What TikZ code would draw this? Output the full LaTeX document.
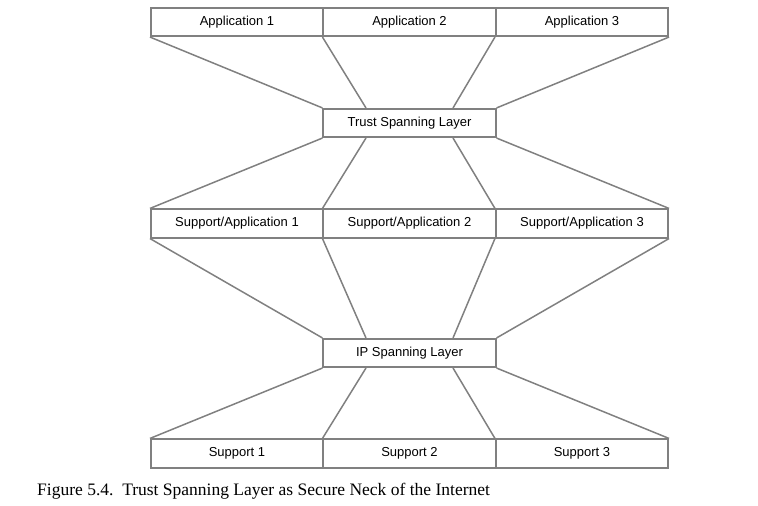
\documentclass[tikz,border=0pt]{standalone}
\usepackage{fontspec}
\setmainfont{Liberation Serif}
\setsansfont{Liberation Sans}
\usetikzlibrary{calc}
\tikzset{
  layer/.style={draw=black!50, line width=1.6pt, minimum width=172.5pt, minimum height=28.5pt,
    inner sep=0pt, font=\sffamily\fontsize{13}{15}\selectfont},
  neck/.style={draw=black!50, line width=1.5pt}
}
\begin{document}
\begin{tikzpicture}[x=1pt,y=1pt]
            \useasboundingbox (0,0) rectangle (758,506);
            \node[layer] (app1) at (237,484){Application 1};
            \node[layer] (app2) at (409.5,484){Application 2};
            \node[layer] (app3) at (582,484){Application 3};

            \node[layer] (trust) at (409.5,383){Trust Spanning Layer};

            \node[layer] (supapp1) at (237,282.5){Support/Application 1};
            \node[layer] (supapp2) at (409.5,282.5){Support/Application 2};
            \node[layer] (supapp3) at (582,282.5){Support/Application 3};

            \node[layer] (ip) at (409.5,153){IP Spanning Layer};

            \node[layer] (sup1) at (237,52.5){Support 1};
            \node[layer] (sup2) at (409.5,52.5){Support 2};
            \node[layer] (sup3) at (582,52.5){Support 3};

            \coordinate (trustnl) at ($(trust.north west)!.25!(trust.north east)$);
            \coordinate (trustnr) at ($(trust.north west)!.75!(trust.north east)$);
            \coordinate (trustsl) at ($(trust.south west)!.25!(trust.south east)$);
            \coordinate (trustsr) at ($(trust.south west)!.75!(trust.south east)$);
            \coordinate (ipnl) at ($(ip.north west)!.25!(ip.north east)$);
            \coordinate (ipnr) at ($(ip.north west)!.75!(ip.north east)$);
            \coordinate (ipsl) at ($(ip.south west)!.25!(ip.south east)$);
            \coordinate (ipsr) at ($(ip.south west)!.75!(ip.south east)$);

            \path[neck] (app1.south west) edge (trust.north west);
            \path[neck] (app2.south west) edge (trustnl);
            \path[neck] (app3.south west) edge (trustnr);
            \path[neck] (app3.south east) edge (trust.north east);

            \path[neck] (trust.south west) edge (supapp1.north west);
            \path[neck] (trustsl) edge (supapp2.north west);
            \path[neck] (trustsr) edge (supapp3.north west);
            \path[neck] (trust.south east) edge (supapp3.north east);

            \path[neck] (supapp1.south west) edge (ip.north west);
            \path[neck] (supapp2.south west) edge (ipnl);
            \path[neck] (supapp3.south west) edge (ipnr);
            \path[neck] (supapp3.south east) edge (ip.north east);

            \path[neck] (ip.south west) edge (sup1.north west);
            \path[neck] (ipsl) edge (sup2.north west);
            \path[neck] (ipsr) edge (sup3.north west);
            \path[neck] (ip.south east) edge (sup3.north east);

            \node[anchor=base west, inner sep=0pt, font=\fontsize{17.5}{20}\selectfont] (caption) at (37,10)
              {Figure 5.4.\ \ Trust Spanning Layer as Secure Neck of the Internet};
\end{tikzpicture}
\end{document}
